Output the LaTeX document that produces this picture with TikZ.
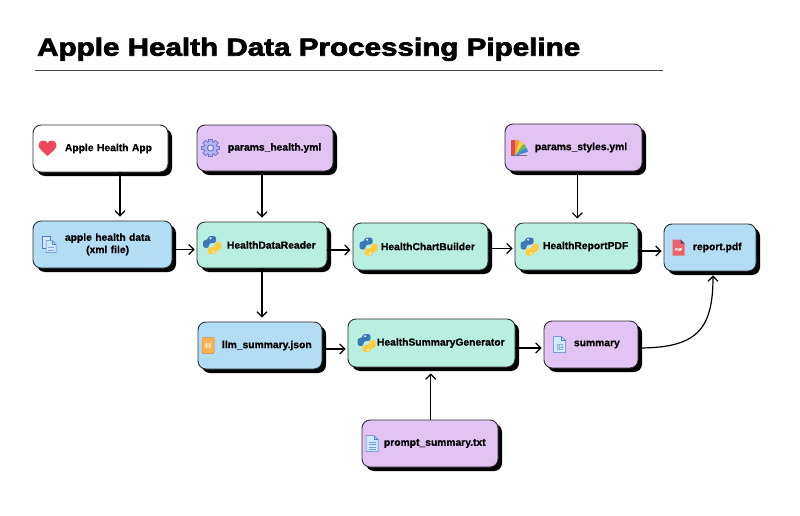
\documentclass[tikz,border=0pt]{standalone}
\usepackage{fontspec}
\setmainfont{Liberation Sans}[BoldFeatures={FakeBold=0.6}]
\newfontfamily\titlefont{Liberation Sans}[BoldFeatures={FakeBold=2.5}]
\usetikzlibrary{arrows.meta,shadows}
\definecolor{cpurple}{HTML}{E1C3F4}
\definecolor{cblue}{HTML}{B3DDF4}
\definecolor{cteal}{HTML}{B9EFE0}
\definecolor{cborder}{HTML}{2E2E2E}
\definecolor{crule}{HTML}{444444}
\definecolor{cheart}{HTML}{F0475F}
\definecolor{cgear}{HTML}{6E72CC}
\definecolor{cgearl}{HTML}{B2B4F2}
\definecolor{cdoc}{HTML}{4A86C8}
\definecolor{cdocl}{HTML}{D3E8FA}
\definecolor{cpyb}{HTML}{3C78B5}
\definecolor{cpyy}{HTML}{FFCB3F}
\definecolor{cpdf}{HTML}{F0636C}
\definecolor{cpdfd}{HTML}{6E3A86}
\definecolor{cjson}{HTML}{F5B356}
\definecolor{cjsond}{HTML}{D4892C}
\definecolor{cfa}{HTML}{E9484A}
\definecolor{cfb}{HTML}{F59A36}
\definecolor{cfc}{HTML}{F4D23C}
\definecolor{cfd}{HTML}{63B866}
\definecolor{cfe}{HTML}{3F86D6}
\tikzset{
  box/.style={draw=cborder, line width=0.9pt, rounded corners=8pt,
    inner xsep=0pt, inner ysep=2pt, align=left, text=black,
    font=\bfseries\fontsize{10.3}{12.3}\selectfont,
    drop shadow={shadow xshift=4pt,shadow yshift=-4pt,fill=black,opacity=1}},
  arr/.style={line width=1.2pt, draw=black, -{Straight Barb[length=5pt,width=10pt]}},
  pics/icheart/.style={code={
    \fill[cheart] (0,-7.5) .. controls (-5,-3) and (-9,0) .. (-9,3.5)
      .. controls (-9,6.5) and (-6.5,8) .. (-4.5,8)
      .. controls (-2.5,8) and (-1,7) .. (0,5.5)
      .. controls (1,7) and (2.5,8) .. (4.5,8)
      .. controls (6.5,8) and (9,6.5) .. (9,3.5)
      .. controls (9,0) and (5,-3) .. (0,-7.5) -- cycle;}},
  pics/icgear/.style={code={
    \foreach \a in {0,45,...,315}{\fill[cgear,rotate=\a] (-2.3,5) rectangle (2.3,9.3);}
    \fill[cgear] (0,0) circle (7.3);
    \fill[cgearl] (0,0) circle (6.2);
    \foreach \a in {0,45,...,315}{\fill[cgearl,rotate=\a] (-1.4,5) rectangle (1.4,8.4);}
    \fill[cgear] (0,0) circle (3.6);
    \fill[cgearl!40] (0,0) circle (2.4);}},
  pics/icfan/.style={code={
    \fill[cfe, rotate around={-72:(-6,-7)}] (-8,-7) rectangle (-4,8);
    \fill[cfd, rotate around={-54:(-6,-7)}] (-8,-7) rectangle (-4,8);
    \fill[cfc, rotate around={-36:(-6,-7)}] (-8,-7) rectangle (-4,8);
    \fill[cfb, rotate around={-18:(-6,-7)}] (-8,-7) rectangle (-4,8);
    \fill[cfa] (-8,-7) rectangle (-4,8);
    \fill[black!55] (-8,-8.5) rectangle (8,-7);}},
  pics/icxml/.style={code={
    \filldraw[fill=cdocl,draw=cdoc,line width=.5pt] (-7,-4) -- (-7,8) -- (1,8) -- (1,-4) -- cycle;
    \filldraw[fill=cdocl,draw=cdoc,line width=.5pt] (-3,-8) -- (-3,4) -- (3,4) -- (7,0) -- (7,-8) -- cycle;
    \draw[cdoc,line width=.4pt] (3,4) -- (3,0) -- (7,0);
    \draw[cdoc!70,line width=.5pt] (-1,-3) -- (5,-3) (-1,-5.5) -- (5,-5.5);}},
  pics/ictxt/.style={code={
    \filldraw[fill=cdocl,draw=cdoc,line width=.5pt] (-6,-8) -- (-6,8) -- (2,8) -- (6,4) -- (6,-8) -- cycle;
    \draw[cdoc,line width=.4pt] (2,8) -- (2,4) -- (6,4);
    \draw[cdoc!80,line width=.5pt] (-3.5,1.5) -- (3.5,1.5) (-3.5,-1) -- (3.5,-1) (-3.5,-3.5) -- (3.5,-3.5) (-3.5,-6) -- (3.5,-6);}},
  pics/icsum/.style={code={
    \filldraw[fill=cdocl,draw=cdoc,line width=.5pt] (-6,-8) -- (-6,8) -- (2,8) -- (6,4) -- (6,-8) -- cycle;
    \draw[cdoc,line width=.4pt] (2,8) -- (2,4) -- (6,4);
    \draw[cdoc!60,line width=.4pt] (-2.5,-5) rectangle (2.5,0) (0,-5) -- (0,0) (-2.5,-2.5) -- (2.5,-2.5);}},
  pics/icpdf/.style={code={
    \fill[cpdf] (-6,-8) -- (-6,8) -- (2,8) -- (6,4) -- (6,-8) -- cycle;
    \fill[cpdfd] (2,8) -- (2,4) -- (6,4) -- cycle;
    \node[inner sep=0pt, text=white, font=\bfseries\fontsize{3.6}{4}\selectfont] (pdft) at (0,-2) {PDF};}},
  pics/icjson/.style={code={
    \filldraw[fill=cjson,draw=cjsond,line width=.5pt,rounded corners=1pt] (-6,-8) rectangle (6,8);
    \node[inner sep=0pt, text=white, font=\bfseries\fontsize{5}{5}\selectfont] (jsont) at (0,0) {\{:\}};}},
  pics/icpy/.style={code={
    \begin{scope}[scale=1.0]
    \fill[cpyb, rounded corners=2.5pt] (-4,9) -- (4,9) -- (4,2) -- (-3,2) -- (-3,-3) -- (-9,-3) -- (-9,5) -- (-4,5) -- cycle;
    \fill[cpyy, rounded corners=2.5pt] (4,-9) -- (-4,-9) -- (-4,-2) -- (3,-2) -- (3,3) -- (9,3) -- (9,-5) -- (4,-5) -- cycle;
    \fill[white] (-1.5,6.8) circle (1.1) (1.5,-6.8) circle (1.1);
    \end{scope}}},
}
\begin{document}
\begin{tikzpicture}[x=1pt,y=1pt]
\useasboundingbox (0,0) rectangle (800,-516);
\fill[white] (0,0) rectangle (800,-516);

% title
\node[anchor=base west, inner sep=0pt] (title) at (37,-55.7)
  {\resizebox{543pt}{18pt}{\titlefont\bfseries Apple Health Data Processing Pipeline}};
\coordinate (r1) at (35,-70.7);
\coordinate (r2) at (663,-70.7);
\draw[crule, line width=1pt] (r1) -- (r2);

% nodes
\node[box, fill=white, text width=135pt, minimum height=47pt] (app) at (100.5,-148.5) {\hspace*{32pt}Apple Health App};
\node[box, fill=cpurple, text width=136pt, minimum height=46pt] (phealth) at (265,-148) {\hspace*{31pt}params\_health.yml};
\node[box, fill=cpurple, text width=137pt, minimum height=47pt] (pstyles) at (573.5,-147.5) {\hspace*{30pt}params\_styles.yml};
\node[box, fill=cblue, text width=139pt, minimum height=47pt] (xml) at (102.5,-244.5) {\hspace*{32pt}\begin{tabular}{@{}c@{}}apple health data\\(xml file)\end{tabular}};
\node[box, fill=cteal, text width=130pt, minimum height=46pt] (hdr) at (262,-245) {\hspace*{30pt}HealthDataReader};
\node[box, fill=cteal, text width=135pt, minimum height=47pt] (hcb) at (420.5,-246.5) {\hspace*{28pt}HealthChartBuilder};
\node[box, fill=cteal, text width=123pt, minimum height=47pt] (hrp) at (576.5,-246.5) {\hspace*{28pt}HealthReportPDF};
\node[box, fill=cblue, text width=92pt, minimum height=47pt] (report) at (710,-247.5) {\hspace*{29pt}report.pdf};
\node[box, fill=cblue, text width=124pt, minimum height=47pt] (llm) at (260,-345.5) {\hspace*{24pt}llm\_summary.json};
\node[box, fill=cteal, text width=167pt, minimum height=48pt] (gen) at (431.5,-343) {\hspace*{29pt}HealthSummaryGenerator};
\node[box, fill=cpurple, text width=94pt, minimum height=47pt] (summary) at (591,-344.5) {\hspace*{30pt}summary};
\node[box, fill=cpurple, text width=136pt, minimum height=47pt] (prompt) at (430,-443.5) {\hspace*{22pt}prompt\_summary.txt};

% icons
\pic at ([xshift=15pt]app.west) {icheart};
\pic at ([xshift=14pt]phealth.west) {icgear};
\pic at ([xshift=14.5pt]pstyles.west) {icfan};
\pic at ([xshift=16.5pt]xml.west) {icxml};
\pic at ([xshift=15.5pt]hdr.west) {icpy};
\pic at ([xshift=16pt]hcb.west) {icpy};
\pic at ([xshift=15pt]hrp.west) {icpy};
\pic at ([xshift=15pt]report.west) {icpdf};
\pic at ([xshift=10.5pt]llm.west) {icjson};
\pic at ([xshift=19pt]gen.west) {icpy};
\pic at ([xshift=16pt]summary.west) {icsum};
\pic at ([xshift=10.5pt]prompt.west) {ictxt};

% connectors
\coordinate (s1) at ([xshift=19.5pt]app.south);
\draw[arr, shorten >=4pt] (s1) -- (s1 |- xml.north);
\coordinate (s2) at ([xshift=-3pt]phealth.south);
\draw[arr, shorten >=4pt] (s2) -- (s2 |- hdr.north);
\coordinate (s3) at ([xshift=3.8pt]pstyles.south);
\draw[arr, shorten >=4pt] (s3) -- (s3 |- hrp.north);
\coordinate (s4) at ([yshift=-5pt]xml.east);
\draw[arr, shorten >=2pt] (s4) -- (s4 -| hdr.west);
\coordinate (s5) at ([yshift=-5pt]hdr.east);
\draw[arr, shorten >=2pt] (s5) -- (s5 -| hcb.west);
\coordinate (s6) at ([yshift=-2pt]hcb.east);
\draw[arr, shorten >=2pt] (s6) -- (s6 -| hrp.west);
\coordinate (s7) at ([yshift=-4.5pt]hrp.east);
\draw[arr, shorten >=2pt] (s7) -- (s7 -| report.west);
\coordinate (s8) at (hdr.south);
\draw[arr, shorten >=4pt] (s8) -- (s8 |- llm.north);
\coordinate (s9) at ([yshift=-3.5pt]llm.east);
\draw[arr, shorten >=2pt] (s9) -- (s9 -| gen.west);
\coordinate (s10) at ([yshift=-5pt]gen.east);
\draw[arr, shorten >=2pt] (s10) -- (s10 -| summary.west);
\coordinate (s11) at ([xshift=0.7pt]prompt.north);
\draw[arr, shorten >=6pt] (s11) -- (s11 |- gen.south);
\coordinate (s12) at ([yshift=-3.5pt]summary.east);
\coordinate (e12) at ([xshift=3pt]report.south);
\draw[arr, shorten >=4pt] (s12) to[out=0, in=-90, looseness=1.4] (e12);
\end{tikzpicture}
\end{document}
